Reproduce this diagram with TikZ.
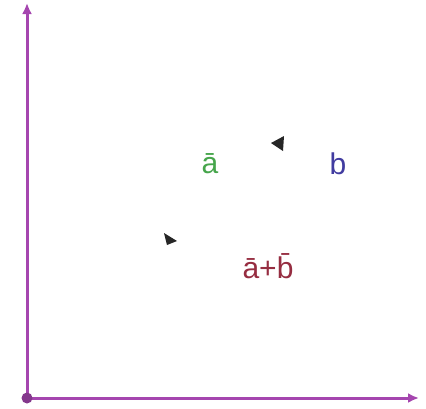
\documentclass[tikz,border=0pt]{standalone}
\usepackage{fontspec}
\setmainfont{Liberation Sans}
\usetikzlibrary{arrows.meta,positioning}
\definecolor{axispurple}{RGB}{165,70,175}
\definecolor{vecgreen}{RGB}{70,165,75}
\definecolor{vecblue}{RGB}{65,60,160}
\definecolor{vecred}{RGB}{150,45,65}
\begin{document}
\begin{tikzpicture}[
  x=1pt, y=-1pt,
  axis/.style={draw=axispurple, line width=3pt, -{Latex[length=11pt, width=10pt]}},
  veclabel/.style={font=\fontsize{30}{34}\selectfont, inner sep=0pt},
  tip/.style={fill=black!85}
]
\useasboundingbox (0,0) rectangle (426,408);
\coordinate (origin) at (27,398);
\coordinate (ytop) at (27,3);
\coordinate (xend) at (419,398);
\draw[axis] (origin) -- (ytop);
\draw[axis] (origin) -- (xend);
\fill[axispurple!80!black] (origin) circle (5.5pt);
\node[veclabel, text=vecgreen] (alabel) at (210,164) {\=a};
\node[veclabel, text=vecblue] (blabel) at (338,164) {b};
\node[veclabel, text=vecred] (sumlabel) at (268,266) {\=a+\=b};
% arrow tips of the vectors
\fill[tip] (271,143) -- (284,136) -- (283,151) -- cycle;
\fill[tip] (177,241) -- (164,233) -- (167,245) -- cycle;
\end{tikzpicture}
\end{document}
